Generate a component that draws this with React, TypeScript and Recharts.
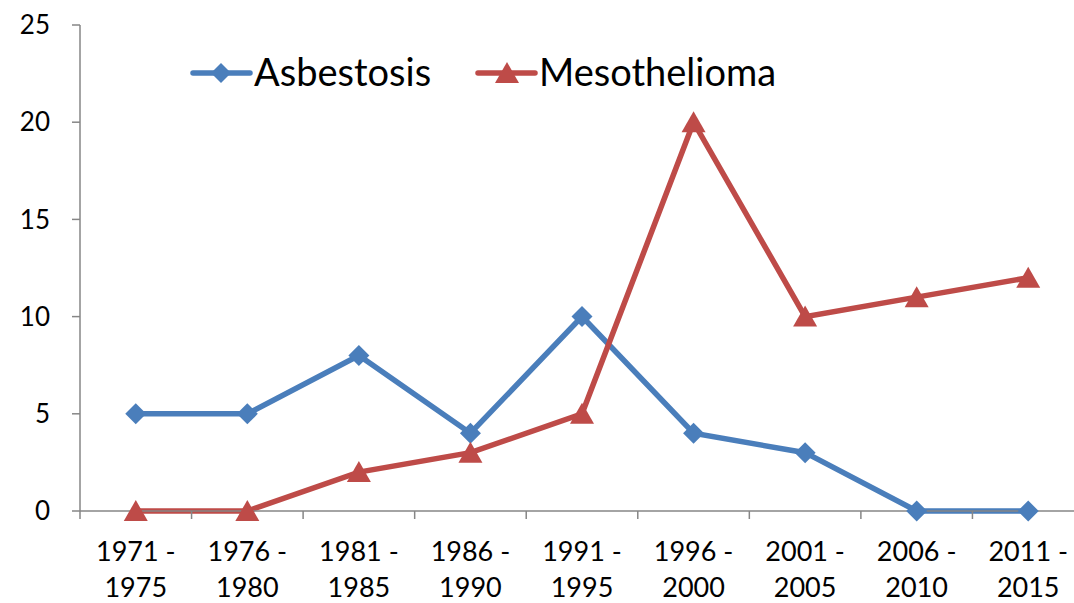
import React from "react";
import { LineChart, Line, XAxis, YAxis, Legend } from "recharts";

// periods on the x axis
const periods = [
  "1971 - 1975",
  "1976 - 1980",
  "1981 - 1985",
  "1986 - 1990",
  "1991 - 1995",
  "1996 - 2000",
  "2001 - 2005",
  "2006 - 2010",
  "2011 - 2015",
];
const asbestosis = [5, 5, 8, 4, 10, 4, 3, 0, 0];
const mesothelioma = [0, 0, 2, 3, 5, 20, 10, 11, 12];
const yTicks = [0, 5, 10, 15, 20, 25];

const BLUE = "#4A7EBB";
const RED = "#BE4B48";
const AXIS = "#868686";
const FONT = "Lato, 'Open Sans', sans-serif";

const data = periods.map((p, i) => ({
  period: p,
  asbestosis: asbestosis[i],
  mesothelioma: mesothelioma[i],
}));

const Diamond = (props: any) => {
  const { cx, cy } = props;
  if (cx == null || cy == null) return null;
  return (
    <polygon
      points={`${cx},${cy - 10.5} ${cx + 10.5},${cy} ${cx},${cy + 10.5} ${cx - 10.5},${cy}`}
      fill={BLUE}
    />
  );
};

const Triangle = (props: any) => {
  const { cx, cy } = props;
  if (cx == null || cy == null) return null;
  return (
    <polygon
      points={`${cx},${cy - 11} ${cx + 12},${cy + 10} ${cx - 12},${cy + 10}`}
      fill={RED}
    />
  );
};

// two-line period label + tick marks on the category boundaries
const PeriodTick = (props: any) => {
  const { x, y, payload, index, width } = props;
  const band = width / periods.length;
  const [a, b] = String(payload.value).split(" - ");
  return (
    <g>
      <line x1={x - band / 2} x2={x - band / 2} y1={y} y2={y + 8} stroke={AXIS} strokeWidth={1.5} />
      {index === periods.length - 1 && (
        <line x1={x + band / 2} x2={x + band / 2} y1={y} y2={y + 8} stroke={AXIS} strokeWidth={1.5} />
      )}
      <text x={x} y={y + 50} textAnchor="middle" fontSize={27} fontFamily={FONT} fill="#000">
        {a + " -"}
      </text>
      <text x={x} y={y + 86} textAnchor="middle" fontSize={27} fontFamily={FONT} fill="#000">
        {b}
      </text>
    </g>
  );
};

const LegendContent = () => (
  <svg width={620} height={50}>
    <line x1={3} x2={60} y1={25} y2={25} stroke={BLUE} strokeWidth={5.5} strokeLinecap="round" />
    <polygon points="31,15 41,25 31,35 21,25" fill={BLUE} />
    <text x={64} y={38} fontSize={38} fontFamily={FONT} fill="#000">
      Asbestosis
    </text>
    <line x1={288} x2={345} y1={25} y2={25} stroke={RED} strokeWidth={5.5} strokeLinecap="round" />
    <polygon points="317,14 329,35 305,35" fill={RED} />
    <text x={349} y={38} fontSize={38} fontFamily={FONT} fill="#000">
      Mesothelioma
    </text>
  </svg>
);

export default function App() {
  return (
    <div style={{ width: 1074, height: 603, overflow: "hidden", background: "#fff" }}>
      <style>{`body{margin:0}`}</style>
      <LineChart
        width={1090}
        height={603}
        data={data}
        margin={{ top: 25, right: 6, left: 0, bottom: 0 }}
      >
        <XAxis
          dataKey="period"
          scale="band"
          height={92}
          interval={0}
          tickSize={0}
          tickMargin={0}
          tickLine={false}
          axisLine={{ stroke: AXIS, strokeWidth: 1.5 }}
          tick={<PeriodTick />}
        />
        <YAxis
          width={80}
          domain={[0, 25]}
          ticks={yTicks}
          tickSize={8}
          tickMargin={22}
          axisLine={{ stroke: AXIS, strokeWidth: 1.5 }}
          tickLine={{ stroke: AXIS, strokeWidth: 1.5 }}
          tick={{ fontSize: 26, fontFamily: FONT, fill: "#000" }}
        />
        <Legend
          layout="horizontal"
          verticalAlign="middle"
          align="center"
          content={<LegendContent />}
          wrapperStyle={{ top: 48, left: 190, width: 620, height: 50 }}
        />
        <Line
          type="linear"
          dataKey="asbestosis"
          name="Asbestosis"
          stroke={BLUE}
          strokeWidth={5.5}
          dot={<Diamond />}
          activeDot={false}
          isAnimationActive={false}
        />
        <Line
          type="linear"
          dataKey="mesothelioma"
          name="Mesothelioma"
          stroke={RED}
          strokeWidth={5.5}
          dot={<Triangle />}
          activeDot={false}
          isAnimationActive={false}
        />
      </LineChart>
    </div>
  );
}
